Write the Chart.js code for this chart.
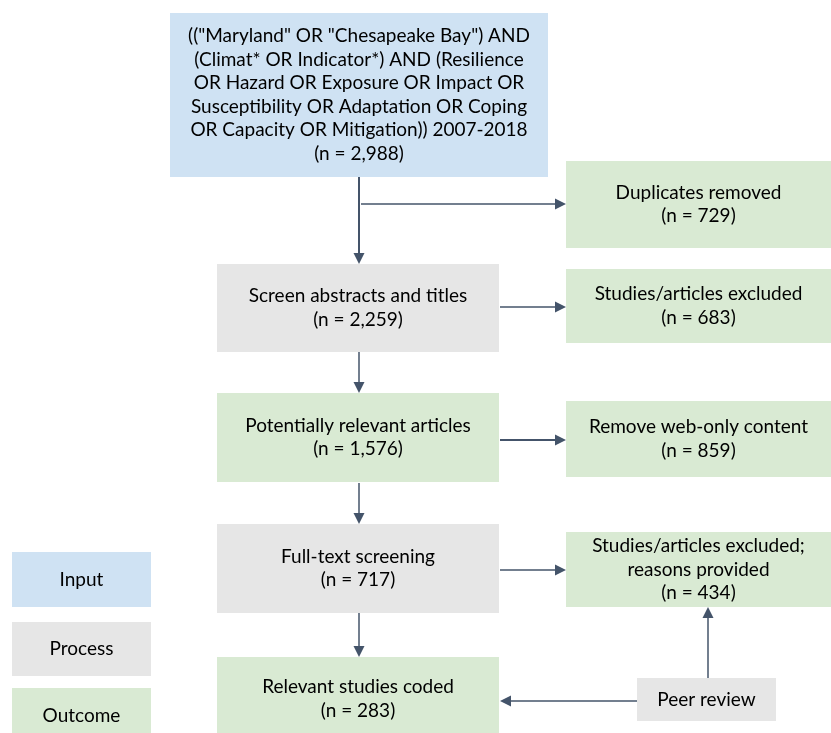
<!DOCTYPE html>
<html>
<head>
<meta charset="utf-8">
<script src="https://cdn.jsdelivr.net/npm/chart.js"></script>
<style>
  html, body { margin: 0; padding: 0; background: #fff; }
  canvas { display: block; }
</style>
</head>
<body>
<canvas id="flowChart" width="831" height="733"></canvas>
<script>
// stage text and counts
const stageLabels = [
  ['(("Maryland" OR "Chesapeake Bay") AND', '(Climat* OR Indicator*) AND (Resilience',
   'OR Hazard OR Exposure OR Impact OR', 'Susceptibility OR Adaptation OR Coping',
   'OR Capacity OR Mitigation)) 2007-2018'],
  ['Duplicates removed'],
  ['Screen abstracts and titles'],
  ['Studies/articles excluded'],
  ['Potentially relevant articles'],
  ['Remove web-only content'],
  ['Full-text screening'],
  ['Studies/articles excluded;', 'reasons provided'],
  ['Relevant studies coded'],
  ['Peer review']
];
const stageCounts = [2988, 729, 2259, 683, 1576, 859, 717, 434, 283, null];
const stageKinds = ['input', 'outcome', 'process', 'outcome', 'outcome',
                    'outcome', 'process', 'outcome', 'outcome', 'process'];
const legendLabels = ['Input', 'Process', 'Outcome'];
const legendKinds = ['input', 'process', 'outcome'];

// layout (diagram units, 0..831 across, 0..733 down)
const stageBoxes = [
  [170, 548, 13, 177], [566, 831, 161, 248], [217, 499, 264, 352], [566, 831, 269, 343],
  [217, 499, 393, 482], [566, 831, 401, 477], [217, 499, 524, 613], [566, 831, 532, 607],
  [217, 499, 657, 741], [637, 776, 678, 721]
];
const legendBoxes = [[12, 151, 552, 607], [12, 151, 622, 676], [12, 151, 688, 744]];
// arrows: [x1, y1, x2, y2, width]
const links = [
  [359, 177, 359, 264, 2], [361, 204, 566, 204, 1.5], [500, 307, 566, 307, 1.5],
  [359, 352, 359, 393, 1.5], [500, 440, 566, 440, 2], [359, 483, 359, 524, 1.5],
  [500, 570, 566, 570, 1.5], [359, 613, 359, 657, 1.5], [637, 701, 500, 701, 1.5],
  [708, 678, 708, 607, 1.5]
];

const fills = { input: '#cfe2f3', process: '#e6e6e6', outcome: '#d9ead3' };
const arrowColor = '#44546a';
const textFont = '19px Lato';
const lineGap = 23.5;

function fmt(n) { return n.toLocaleString('en-US'); }

const flowPlugin = {
  id: 'flow',
  afterDatasetsDraw(chart) {
    const ctx = chart.ctx;
    const xs = chart.scales.x, ys = chart.scales.y;
    const X = v => xs.getPixelForValue(v);
    const Y = v => ys.getPixelForValue(v);

    function box(b, kind, lines) {
      const x1 = X(b[0]), x2 = X(b[1]), y1 = Y(b[2]), y2 = Y(b[3]);
      ctx.fillStyle = fills[kind];
      ctx.fillRect(x1, y1, x2 - x1, y2 - y1);
      ctx.fillStyle = '#000';
      ctx.font = textFont;
      ctx.textAlign = 'center';
      ctx.textBaseline = 'middle';
      const cx = (x1 + x2) / 2, cy = (y1 + y2) / 2;
      lines.forEach((t, i) => {
        ctx.fillText(t, cx, cy + (i - (lines.length - 1) / 2) * lineGap);
      });
    }

    ctx.save();
    stageBoxes.forEach((b, i) => {
      const lines = stageLabels[i].slice();
      if (stageCounts[i] != null) lines.push('(n = ' + fmt(stageCounts[i]) + ')');
      box(b, stageKinds[i], lines);
    });
    legendBoxes.forEach((b, i) => box(b, legendKinds[i], [legendLabels[i]]));

    ctx.strokeStyle = arrowColor;
    ctx.fillStyle = arrowColor;
    links.forEach(l => {
      const x1 = X(l[0]), y1 = Y(l[1]), x2 = X(l[2]), y2 = Y(l[3]);
      const ang = Math.atan2(y2 - y1, x2 - x1);
      const head = 11, half = 5.5;
      ctx.lineWidth = l[4];
      ctx.beginPath();
      ctx.moveTo(x1, y1);
      ctx.lineTo(x2 - Math.cos(ang) * head, y2 - Math.sin(ang) * head);
      ctx.stroke();
      ctx.beginPath();
      ctx.moveTo(x2, y2);
      ctx.lineTo(x2 - Math.cos(ang) * head - Math.sin(ang) * half, y2 - Math.sin(ang) * head + Math.cos(ang) * half);
      ctx.lineTo(x2 - Math.cos(ang) * head + Math.sin(ang) * half, y2 - Math.sin(ang) * head - Math.cos(ang) * half);
      ctx.closePath();
      ctx.fill();
    });
    ctx.restore();
  }
};

new Chart(document.getElementById('flowChart'), {
  type: 'scatter',
  data: {
    datasets: [{
      label: 'stages',
      data: stageBoxes.map((b, i) => ({ x: (b[0] + b[1]) / 2, y: (b[2] + b[3]) / 2, n: stageCounts[i] })),
      pointRadius: 0
    }]
  },
  options: {
    responsive: false,
    animation: false,
    layout: { padding: 0 },
    plugins: { legend: { display: false }, tooltip: { enabled: false } },
    scales: {
      x: { type: 'linear', min: 0, max: 831, display: false },
      y: { type: 'linear', min: 0, max: 733, reverse: true, display: false }
    }
  },
  plugins: [flowPlugin]
});
</script>
</body>
</html>
